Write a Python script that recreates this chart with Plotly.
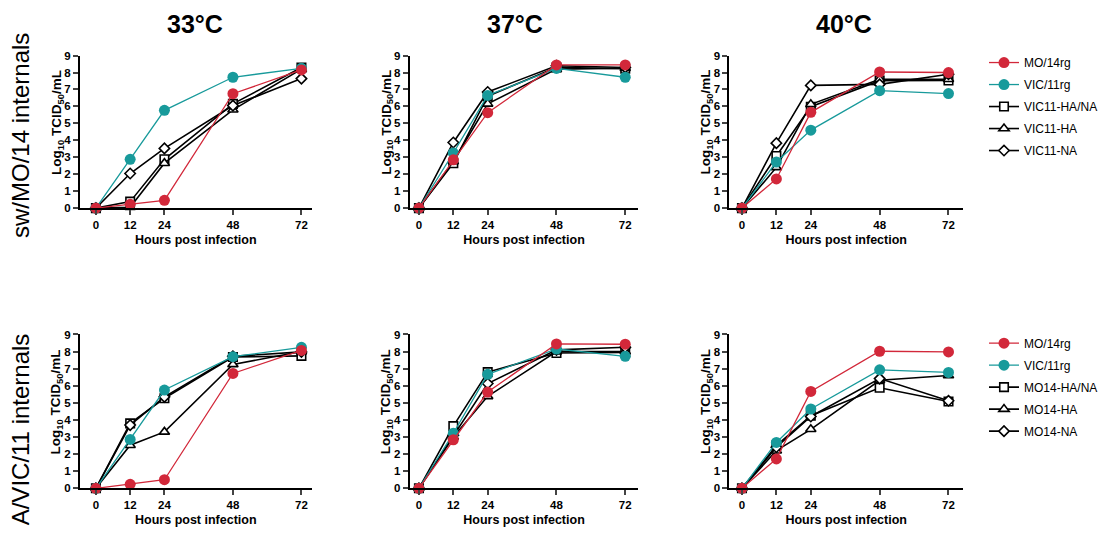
import plotly.graph_objects as go

W, H = 1103, 537

hours = [0, 12, 24, 48, 72]
temps = ["33°C", "37°C", "40°C"]
row_labels = ["sw/MO/14 internals", "A/VIC/11 internals"]
y_ticks = [0, 1, 2, 3, 4, 5, 6, 7, 8, 9]
x_title = "Hours post infection"
y_title = "Log<sub>10</sub> TCID<sub>50</sub>/mL"

top_names = ["MO/14rg", "VIC/11rg", "VIC11-HA/NA", "VIC11-HA", "VIC11-NA"]
bot_names = ["MO/14rg", "VIC/11rg", "MO14-HA/NA", "MO14-HA", "MO14-NA"]

# ---- top row (sw/MO/14 internals) ----
top33_MO14rg = [0, 0.22, 0.46, 6.75, 8.15]
top33_VIC11rg = [0, 2.88, 5.77, 7.72, 8.25]
top33_HANA = [0, 0.38, 2.88, 6.15, 8.3]
top33_HA = [0, 0.05, 2.65, 5.8, 8.2]
top33_NA = [0, 2.04, 3.52, 6.05, 7.64]

top37_MO14rg = [0, 2.85, 5.63, 8.45, 8.45]
top37_VIC11rg = [0, 3.25, 6.65, 8.24, 7.72]
top37_HANA = [0, 2.65, 6.6, 8.3, 8.22]
top37_HA = [0, 2.75, 6.15, 8.2, 8.25]
top37_NA = [0, 3.87, 6.85, 8.4, 8.3]

top40_MO14rg = [0, 1.72, 5.65, 8.03, 8.0]
top40_VIC11rg = [0, 2.72, 4.6, 6.93, 6.76]
top40_HANA = [0, 3.07, 5.98, 7.52, 7.53]
top40_HA = [0, 2.4, 6.12, 7.6, 7.6]
top40_NA = [0, 3.83, 7.24, 7.3, 7.9]

# ---- bottom row (A/VIC/11 internals) ----
bot33_MO14rg = [0, 0.23, 0.5, 6.72, 8.07]
bot33_VIC11rg = [0, 2.86, 5.75, 7.7, 8.25]
bot33_HANA = [0, 3.8, 5.27, 7.68, 7.75]
bot33_HA = [0, 2.52, 3.3, 7.25, 8.0]
bot33_NA = [0, 3.7, 5.35, 7.72, 7.98]

bot37_MO14rg = [0, 2.84, 5.63, 8.45, 8.43]
bot37_VIC11rg = [0, 3.22, 6.67, 8.15, 7.72]
bot37_HANA = [0, 3.64, 6.8, 7.92, 7.95]
bot37_HA = [0, 3.0, 5.38, 8.0, 8.0]
bot37_NA = [0, 3.1, 6.13, 8.1, 8.25]

bot40_MO14rg = [0, 1.72, 5.67, 8.02, 7.98]
bot40_VIC11rg = [0, 2.68, 4.64, 6.93, 6.78]
bot40_HANA = [0, 2.5, 4.25, 5.88, 5.08]
bot40_HA = [0, 2.2, 3.45, 6.32, 6.6]
bot40_NA = [0, 2.4, 4.2, 6.42, 5.12]

top_series = [
    [top33_MO14rg, top33_VIC11rg, top33_HANA, top33_HA, top33_NA],
    [top37_MO14rg, top37_VIC11rg, top37_HANA, top37_HA, top37_NA],
    [top40_MO14rg, top40_VIC11rg, top40_HANA, top40_HA, top40_NA],
]
bot_series = [
    [bot33_MO14rg, bot33_VIC11rg, bot33_HANA, bot33_HA, bot33_NA],
    [bot37_MO14rg, bot37_VIC11rg, bot37_HANA, bot37_HA, bot37_NA],
    [bot40_MO14rg, bot40_VIC11rg, bot40_HANA, bot40_HA, bot40_NA],
]

RED = "#D2283A"
TEAL = "#189A9B"
FONT = "Liberation Sans, Arial, sans-serif"

styles = [
    dict(color=RED, symbol="circle", size=11, fill=RED, lw=1.3, mlw=0),
    dict(color=TEAL, symbol="circle", size=11, fill=TEAL, lw=1.3, mlw=0),
    dict(color="black", symbol="square", size=8.5, fill="white", lw=1.6, mlw=1.6),
    dict(color="black", symbol="triangle-up", size=9, fill="white", lw=1.6, mlw=1.6),
    dict(color="black", symbol="diamond", size=8, fill="white", lw=1.6, mlw=1.6),
]
draw_order = [2, 3, 4, 1, 0]

# pixel geometry of each column: (axis line x, axis end x, x range left, x range right)
col_px = [(80, 312, -5.6, 75.6), (410, 639, -3.25, 76.6), (730, 964, -4.4, 77.1)]
row_px = [(50.7, 206.7), (336.0, 493.3)]

fig = go.Figure()
layout = {}
annotations = []

for r, (series_rows, names, leg) in enumerate(
        [(top_series, top_names, "legend"), (bot_series, bot_names, "legend2")]):
    for c in range(3):
        idx = r * 3 + c + 1
        xa = "x" if idx == 1 else f"x{idx}"
        ya = "y" if idx == 1 else f"y{idx}"
        for k in draw_order:
            st = styles[k]
            fig.add_trace(go.Scatter(
                x=hours, y=series_rows[c][k], name=names[k],
                mode="lines+markers", xaxis=xa, yaxis=ya,
                line=dict(color=st["color"], width=st["lw"]),
                marker=dict(symbol=st["symbol"], size=st["size"], color=st["fill"],
                            line=dict(color=st["color"], width=st["mlw"])),
                cliponaxis=False, legend=leg, legendrank=k + 1,
                legendgroup=f"{leg}_{k}",
                showlegend=(c == 0), hoverinfo="skip",
            ))
        x0, x1, rl, rr = col_px[c]
        yt, yb = row_px[r]
        xkey = "xaxis" if idx == 1 else f"xaxis{idx}"
        ykey = "yaxis" if idx == 1 else f"yaxis{idx}"
        layout[xkey] = dict(
            domain=[x0 / W, x1 / W], range=[rl, rr], anchor=ya,
            tickvals=hours, ticks="outside", ticklen=5, tickwidth=2,
            showline=True, linewidth=2, linecolor="black",
            showgrid=False, zeroline=False, fixedrange=True,
            tickfont=dict(family=FONT, size=11.5, color="black", weight="bold"),
            title=dict(text=x_title, standoff=5,
                       font=dict(family=FONT, size=12.5, color="black", weight="bold")),
        )
        layout[ykey] = dict(
            domain=[1 - yb / H, 1 - yt / H], range=[0, 9], anchor=xa,
            tickvals=y_ticks, ticks="outside", ticklen=5, tickwidth=2,
            showline=True, linewidth=2, linecolor="black",
            showgrid=False, zeroline=False, fixedrange=True,
            tickfont=dict(family=FONT, size=11.5, color="black", weight="bold"),
        )
        annotations.append(dict(
            text=y_title, x=(x0 - 23) / W, y=1 - ((yt + yb) / 2 - 10) / H,
            xref="paper", yref="paper", xanchor="center", yanchor="middle",
            showarrow=False, textangle=-90,
            font=dict(family=FONT, size=13.5, color="black", weight="bold")))

title_x = [195, 515, 845]
for c, t in enumerate(temps):
    annotations.append(dict(text=t, x=title_x[c] / W, y=1 - 18 / H, xref="paper", yref="paper",
                            xanchor="center", yanchor="middle", showarrow=False,
                            font=dict(family=FONT, size=25, color="black", weight="bold")))
row_cy = [132, 433]
for r, t in enumerate(row_labels):
    annotations.append(dict(text=t, x=20 / W, y=1 - row_cy[r] / H, xref="paper", yref="paper",
                            xanchor="center", yanchor="middle", showarrow=False, textangle=-90,
                            font=dict(family=FONT, size=24, color="black")))

leg_common = dict(xanchor="left", yanchor="top", bgcolor="rgba(0,0,0,0)",
                  font=dict(family=FONT, size=12, color="black"), tracegroupgap=3,
                  itemclick=False, itemdoubleclick=False)

fig.update_layout(
    autosize=True, margin=dict(l=0, r=0, t=0, b=0),
    plot_bgcolor="white", paper_bgcolor="white",
    annotations=annotations,
    legend=dict(x=985 / W, y=1 - 43 / H, **leg_common),
    legend2=dict(x=985 / W, y=1 - 330 / H, **leg_common),
    **layout,
)

post = ("document.documentElement.style.margin='0';"
        "document.body.style.margin='0';document.body.style.overflow='hidden';"
        "var gd=document.getElementById('{plot_id}');"
        "gd.style.width='100vw';gd.style.height='100vh';"
        "Plotly.Plots.resize(gd);")

fig.write_html("out.html", config={"displayModeBar": False, "responsive": True},
               default_width="100vw", default_height="100vh", post_script=post)
